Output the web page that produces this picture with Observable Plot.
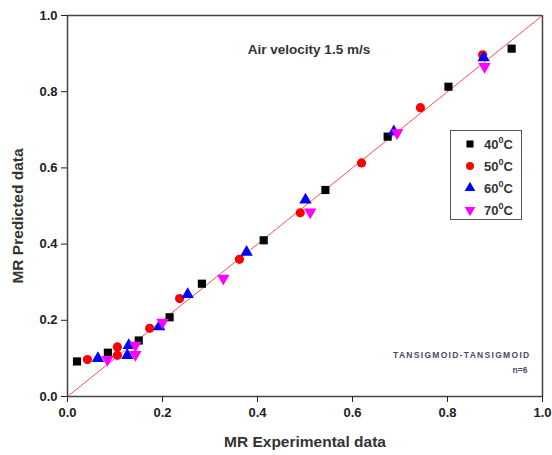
<!DOCTYPE html>
<html><head><meta charset="utf-8">
<script src="https://cdn.jsdelivr.net/npm/d3@7"></script>
<script src="https://cdn.jsdelivr.net/npm/@observablehq/plot@0.6"></script>
<style>
body{margin:0;background:#fff;font-family:"Liberation Sans",Arial,sans-serif;}
#wrap{position:relative;width:552px;height:455px;}
#legend{position:absolute;left:450px;top:130px;width:72px;height:90px;border:1.5px solid #555;background:#fff;box-sizing:border-box;}
.li{position:absolute;left:0;height:20px;display:flex;align-items:center;font-weight:bold;font-size:13px;color:#333;}
.li svg{margin-left:13px;margin-right:8px;}
.li sup{font-size:9px;position:relative;top:-1px;}
.note text{letter-spacing:1.3px;}
</style>
</head><body>
<div id="wrap"><div id="chart"></div><div id="legend"></div></div>
<script>
const series = ["40", "50", "60", "70"];
const colors = ["#000000", "#ff0000", "#0000ff", "#ff00ff"];
const x40 = [0.02, 0.085, 0.15, 0.215, 0.283, 0.413, 0.543, 0.674, 0.802, 0.935];
const y40 = [0.092, 0.115, 0.147, 0.208, 0.296, 0.41, 0.542, 0.682, 0.813, 0.913];
const x50 = [0.042, 0.105, 0.105, 0.173, 0.236, 0.362, 0.49, 0.619, 0.743, 0.874];
const y50 = [0.097, 0.13, 0.108, 0.179, 0.257, 0.36, 0.482, 0.613, 0.758, 0.897];
const x60 = [0.064, 0.126, 0.129, 0.193, 0.253, 0.377, 0.501, 0.687, 0.876];
const y60 = [0.1, 0.108, 0.134, 0.183, 0.268, 0.379, 0.516, 0.695, 0.889];
const x70 = [0.084, 0.143, 0.143, 0.2, 0.328, 0.511, 0.694, 0.878];
const y70 = [0.097, 0.11, 0.134, 0.195, 0.31, 0.484, 0.692, 0.866];
const ticks = [0, 0.2, 0.4, 0.6, 0.8, 1.0];
const fitLine = [0, 1];
const title = "Air velocity 1.5 m/s";
const note1 = "TANSIGMOID-TANSIGMOID";
const note2 = "n=6";

const triDown = {
  draw(context, size) {
    const y = -Math.sqrt(size / (Math.sqrt(3) * 3));
    context.moveTo(0, -y * 2);
    context.lineTo(-Math.sqrt(3) * y, y);
    context.lineTo(Math.sqrt(3) * y, y);
    context.closePath();
  }
};
const symTypes = [d3.symbolSquare, d3.symbolCircle, d3.symbolTriangle, triDown];

const xs = [x40, x50, x60, x70], ys = [y40, y50, y60, y70];
const data = [];
series.forEach((s, i) => xs[i].forEach((v, j) => data.push({s, x: v, y: ys[i][j]})));

const chart = Plot.plot({
  width: 552, height: 455,
  marginLeft: 67, marginRight: 10, marginTop: 15, marginBottom: 59,
  style: {fontFamily: "Liberation Sans, Arial, sans-serif", color: "#222"},
  x: {domain: [0, 1]},
  y: {domain: [0, 1]},
  color: {domain: series, range: colors},
  symbol: {domain: series, range: symTypes},
  marks: [
    Plot.frame({stroke: "#444", strokeWidth: 1.5}),
    Plot.line(fitLine.map(v => ({x: v, y: v})), {x: "x", y: "y", stroke: "#ff5050", strokeWidth: 1}),
    Plot.dot(data, {x: "x", y: "y", symbol: "s", fill: "s", r: 4.6, stroke: "none"}),
    Plot.axisX({ticks, tickFormat: d3.format(".1f"), tickSize: 6, tickPadding: 5, fontSize: 13, fontWeight: "bold",
      label: "MR Experimental data", labelAnchor: "center", labelArrow: "none", labelOffset: 50}),
    Plot.axisY({ticks, tickFormat: d3.format(".1f"), tickSize: 6, tickPadding: 4, fontSize: 13, fontWeight: "bold",
      label: "MR Predicted data", labelAnchor: "center", labelArrow: "none", labelOffset: 56}),
    Plot.text([title], {frameAnchor: "top", dy: 29, dx: 4, fontSize: 13.5, fontWeight: "bold", fill: "#333"}),
    Plot.text([note1], {frameAnchor: "bottom-right", dx: -12, dy: -39, fontSize: 8.5, fontWeight: "bold", fill: "#4a4a66", className: "note"}),
    Plot.text([note2], {frameAnchor: "bottom-right", dx: -15, dy: -24, fontSize: 8.5, fontWeight: "bold", fill: "#4a4a66"})
  ]
});
d3.select(chart).selectAll("[aria-label='x-axis label'] text, [aria-label='y-axis label'] text")
  .attr("font-size", 15.5).attr("font-weight", "bold").attr("fill", "#333");
const yl = d3.select(chart).select("[aria-label='y-axis label']");
yl.attr("transform", "translate(0,10) " + (yl.attr("transform") || ""));
document.getElementById("chart").appendChild(chart);

const leg = document.getElementById("legend");
series.forEach((s, i) => {
  const div = document.createElement("div");
  div.className = "li";
  div.style.top = (3 + i * 22) + "px";
  const p = d3.symbol(symTypes[i], 50)();
  div.innerHTML = `<svg width="12" height="12" viewBox="-6 -6 12 12"><path d="${p}" fill="${colors[i]}"/></svg><span>${s}<sup>0</sup>C</span>`;
  leg.appendChild(div);
});
</script>
</body></html>
